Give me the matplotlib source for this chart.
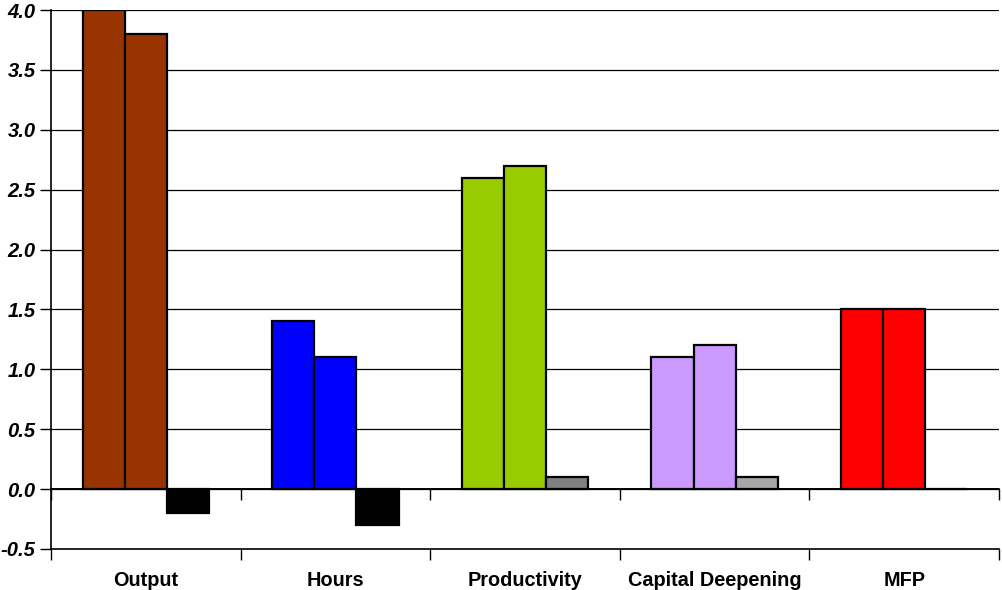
import matplotlib
matplotlib.use('Agg')
import matplotlib.pyplot as plt
import numpy as np
from matplotlib.ticker import FixedLocator, FormatStrFormatter

# ─────────────────────────────────────────────────────────────────────────────
# Dados
# ─────────────────────────────────────────────────────────────────────────────
categories = ['Output', 'Hours', 'Productivity', 'Capital Deepening', 'MFP']
period_a = [4.0, 1.4, 2.6, 1.1, 1.5]
period_b = [3.8, 1.1, 2.7, 1.2, 1.5]
difference = [-0.2, -0.3, 0.1, 0.1, 0.0]

main_colors = ['#993300', '#0000FF', '#99CC00', '#CC99FF', '#FF0000']
diff_colors = ['#000000', '#000000', '#808080', '#A6A6A6', '#000000']

y_ticks = [-0.5, 0.0, 0.5, 1.0, 1.5, 2.0, 2.5, 3.0, 3.5, 4.0]

# ─────────────────────────────────────────────────────────────────────────────
# Figura
# ─────────────────────────────────────────────────────────────────────────────
plt.rcParams['font.family'] = ['Liberation Sans', 'DejaVu Sans']
plt.rcParams['font.weight'] = 'bold'

fig = plt.figure(figsize=(10.02, 5.90), dpi=100, facecolor='white')
ax = fig.add_axes([51 / 1002, 41 / 590, 948 / 1002, 539 / 590])

x = np.arange(len(categories))
w = 2 / 9
edge = dict(edgecolor='black', linewidth=1.6, zorder=3)

ax.bar(x - w, period_a, width=w, color=main_colors, **edge)
ax.bar(x, period_b, width=w, color=main_colors, **edge)
ax.bar(x + w, difference, width=w, color=diff_colors, **edge)

ax.set_xlim(-0.5, len(categories) - 0.5)
ax.set_ylim(y_ticks[0], y_ticks[-1])

# grade horizontal
for yv in y_ticks[1:]:
    ax.axhline(yv, color='black', linewidth=0.9, zorder=1)
ax.axhline(0, color='black', linewidth=1.2, zorder=4)

# eixo y
ax.yaxis.set_major_locator(FixedLocator(y_ticks))
ax.yaxis.set_major_formatter(FormatStrFormatter('%.1f'))
ax.tick_params(axis='y', direction='out', length=8, width=1, pad=3,
               labelsize=14.5)

# eixo x: limites das categorias com marcas, rótulos no centro
bounds = np.arange(len(categories) + 1) - 0.5
ax.set_xticks(bounds, [''] * len(bounds))
ax.set_xticks(x, categories, minor=True)
ax.tick_params(axis='x', which='major', direction='out', length=8, width=1)
ax.tick_params(axis='x', which='minor', length=0, pad=15.5, top=False,
               labelsize=14.3)

# marcas também sobre a linha do zero (spine superior reposicionada)
ax.spines['top'].set_position(('data', 0))
ax.spines['top'].set_linewidth(1.2)
ax.tick_params(axis='x', which='major', top=True, labeltop=False)
for t in ax.xaxis.get_major_ticks():
    t.tick2line.set_marker(3)  # aponta para baixo
    t.tick2line.set_markersize(8)

ax.spines['right'].set_visible(False)
ax.spines['left'].set_linewidth(1.2)
ax.spines['bottom'].set_linewidth(1.2)

for lbl in ax.get_yticklabels():
    lbl.set_fontstyle('italic')

fig.savefig('out.png', dpi=100, facecolor='white')
